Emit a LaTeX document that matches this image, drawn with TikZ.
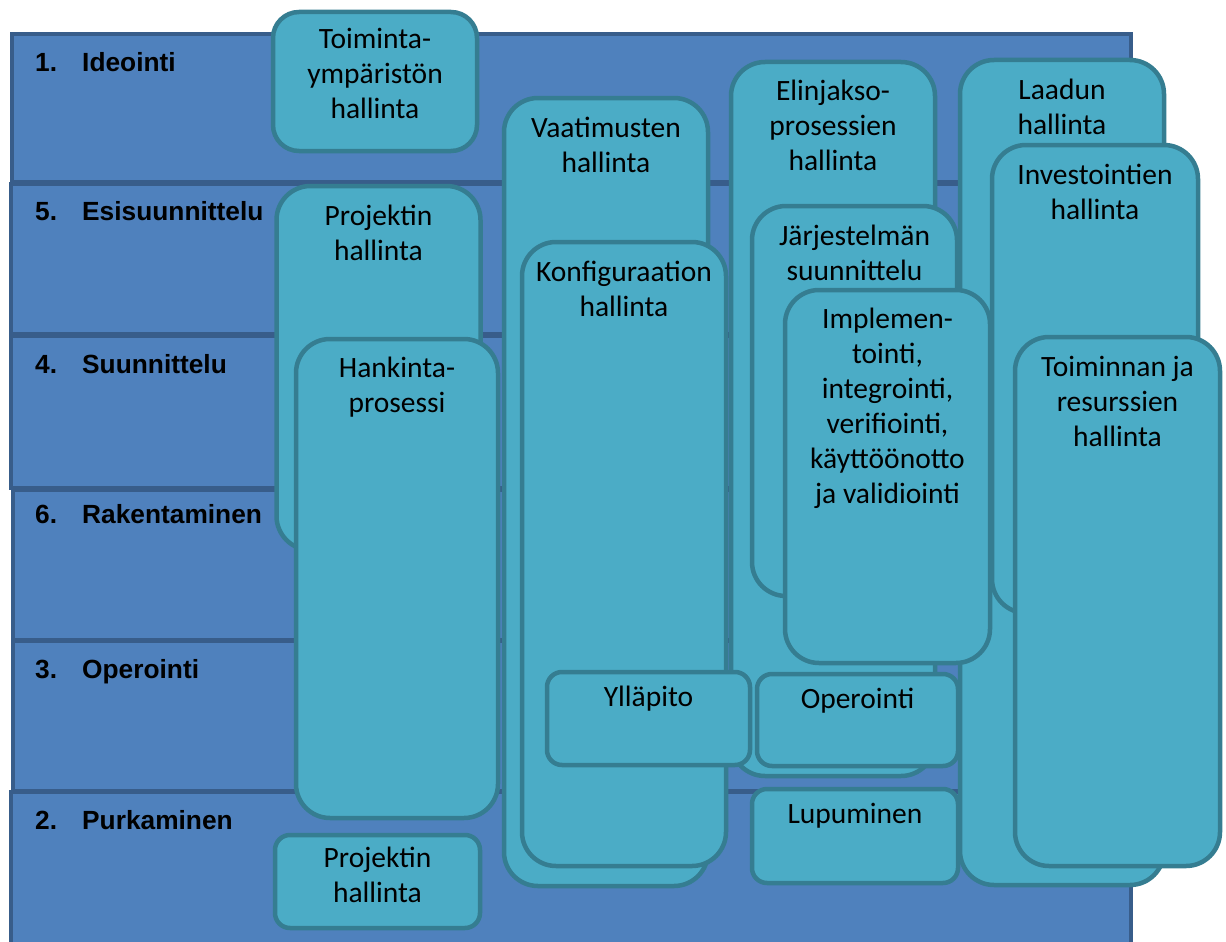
\documentclass[tikz,border=0pt]{standalone}
\usepackage{fontspec}
\setmainfont{Carlito}
\newfontfamily\phasefont{Liberation Sans}
\usetikzlibrary{positioning}
\definecolor{bandfill}{HTML}{4F81BD}
\definecolor{bandline}{HTML}{385D8A}
\definecolor{procfill}{HTML}{4BACC6}
\definecolor{procline}{HTML}{357D91}
\begin{document}
\begin{tikzpicture}[x=1pt, y=-1pt,
  band/.style={draw=bandline, fill=bandfill, line width=4pt, outer sep=0pt, inner sep=0pt, anchor=north west},
  phase/.style={anchor=base west, inner sep=0pt, font=\phasefont\bfseries\fontsize{26.3}{30}\selectfont},
  proc/.style={draw=procline, fill=procfill, line width=4.5pt, rounded corners=34pt, inner sep=0pt, minimum width=204pt},
  small/.style={rounded corners=15pt},
  proctext/.style={align=center, inner sep=0pt, font=\fontsize{29.5}{35}\selectfont}]

\useasboundingbox (0,0) rectangle (1226,942);

% life cycle phases
\node[band, minimum width=1119.5pt, minimum height=147.5pt] (b1) at (11.5,34.5) {};
\node[band, minimum width=1120.5pt, minimum height=150pt] (b2) at (10.5,184) {};
\node[band, minimum width=1120.5pt, minimum height=152pt] (b3) at (10.5,336) {};
\node[band, minimum width=1118pt, minimum height=150pt] (b4) at (13,490) {};
\node[band, minimum width=1118.5pt, minimum height=150pt] (b5) at (12.5,641) {};
\node[band, minimum width=1120pt, minimum height=170pt] (b6) at (11,792) {};

\node[phase] (l1) at (35,72) {\makebox[47pt][l]{1.}Ideointi};
\node[phase] (l2) at (35,220) {\makebox[47pt][l]{5.}Esisuunnittelu};
\node[phase] (l3) at (35,373) {\makebox[47pt][l]{4.}Suunnittelu};
\node[phase] (l4) at (35,523) {\makebox[47pt][l]{6.}Rakentaminen};
\node[phase] (l5) at (35,678) {\makebox[47pt][l]{3.}Operointi};
\node[phase] (l6) at (35,829) {\makebox[47pt][l]{2.}Purkaminen};

% processes
\node[proc, minimum height=139pt, rounded corners=26pt] (p1) at (375,81.5) {};
\node[proctext, below=14pt of p1.north] (p1t) {\strut Toiminta-\\ympäristön\\hallinta};

\node[proc, minimum height=364pt] (p2) at (378.5,368) {};
\node[proctext, below=17pt of p2.north] (p2t) {\strut Projektin\\hallinta};

\node[proc, minimum height=479pt, minimum width=202pt] (p3) at (397,578.5) {};
\node[proctext, below=16pt of p3.north] (p3t) {\strut Hankinta-\\prosessi};

\node[proc, small, minimum height=93pt, minimum width=205pt] (p4) at (377.5,881.5) {};
\node[proctext, below=10pt of p4.north] (p4t) {\strut Projektin\\hallinta};

\node[proc, minimum height=788pt] (p5) at (606,492) {};
\node[proctext, below=17pt of p5.north] (p5t) {\strut Vaatimusten\\hallinta};

\node[proc, minimum height=624pt] (p6) at (624,554) {};
\node[proctext, below=17pt of p6.north] (p6t) {\strut Konfiguraation\\hallinta};

\node[proc, minimum height=825pt] (p7) at (1062,472.5) {};
\node[proctext, below=17pt of p7.north] (p7t) {\strut Laadun\\hallinta};

\node[proc, minimum height=714pt] (p8) at (833,419) {};
\node[proctext, below=16pt of p8.north] (p8t) {\strut Elinjakso-\\prosessien\\hallinta};

\node[proc, minimum height=390pt, minimum width=205pt] (p9) at (854.5,401) {};
\node[proctext, below=17pt of p9.north] (p9t) {\strut Järjestelmän\\suunnittelu};

\node[proc, minimum height=373pt, minimum width=205pt] (p10) at (887.5,476.5) {};
\node[proctext, below=16pt of p10.north] (p10t) {\strut Implemen-\\tointi,\\integrointi,\\verifiointi,\\käyttöönotto\\ja validiointi};

\node[proc, minimum height=468pt, minimum width=206pt] (p11) at (1095,379) {};
\node[proctext, below=17pt of p11.north] (p11t) {\strut Investointien\\hallinta};

\node[proc, minimum height=529pt, minimum width=205pt] (p12) at (1117.5,601.5) {};
\node[proctext, below=17pt of p12.north] (p12t) {\strut Toiminnan ja\\resurssien\\hallinta};

\node[proc, small, minimum height=93pt, minimum width=203pt] (p13) at (648.5,718.5) {};
\node[proctext, below=12pt of p13.north] (p13t) {\strut Ylläpito};

\node[proc, small, minimum height=92pt, minimum width=201pt] (p14) at (857.5,720) {};
\node[proctext, below=12pt of p14.north] (p14t) {\strut Operointi};

\node[proc, small, minimum height=94pt, minimum width=206pt] (p15) at (855,836) {};
\node[proctext, below=12pt of p15.north] (p15t) {\strut Lupuminen};

\end{tikzpicture}
\end{document}
